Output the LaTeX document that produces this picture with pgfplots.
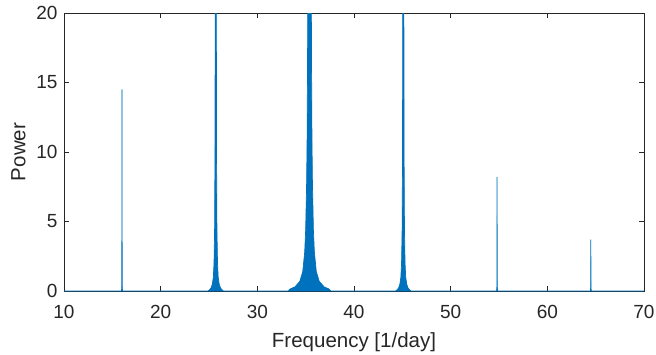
\documentclass[border=0pt]{standalone}
\usepackage{fontspec}
\setmainfont{Liberation Sans}
\usepackage{pgfplots}
\pgfplotsset{compat=1.18}
\definecolor{mblue}{RGB}{0,114,189}
\definecolor{mgray}{RGB}{38,38,38}
\begin{document}
\fontsize{19}{22}\selectfont
\begin{tikzpicture}
\path[use as bounding box] (-64pt,-63pt) rectangle (592pt,291pt);
\begin{axis}[
  at={(0,0)}, anchor=south west,
  scale only axis, width=580pt, height=278pt,
  xmin=10, xmax=70, ymin=0, ymax=20,
  xtick={10,20,...,70}, ytick={0,5,...,20},
  tick align=inside, major tick length=5pt,
  axis line style={mgray, line width=0.6pt},
  tick style={mgray, line width=0.6pt},
  ticklabel style={mgray},
  xticklabel style={yshift=-8pt},
  /pgf/number format/assume math mode=true,
  xlabel={Frequency [1/day]}, ylabel={Power},
  label style={mgray, font=\fontsize{20.5}{24}\selectfont},
  xlabel style={yshift=-1pt},
  ylabel style={yshift=-2pt},
  clip=true,
]
\addplot[draw=mblue, fill=mblue, line width=0.7pt] table[row sep=\\] {
x y\\
10 0\\
15.95 0\\
15.98 0.4\\
16.0 14.5\\
16.02 0.4\\
16.05 0\\
24.9 0\\
25.0 0.05\\
25.2 0.2\\
25.35 0.5\\
25.45 1.0\\
25.52 2.0\\
25.58 4.5\\
25.62 10\\
25.65 25\\
25.7 60\\
25.75 25\\
25.78 10\\
25.82 4.5\\
25.88 2.0\\
25.95 1.0\\
26.05 0.5\\
26.2 0.2\\
26.4 0.05\\
26.5 0\\
33.2 0\\
33.4 0.15\\
33.9 0.3\\
34.4 0.7\\
34.7 1.4\\
34.9 2.8\\
35.0 4.4\\
35.1 7.8\\
35.15 11\\
35.2 17.5\\
35.25 31\\
35.3 70\\
35.4 200\\
35.5 70\\
35.55 31\\
35.6 17.5\\
35.65 11\\
35.7 7.8\\
35.8 4.4\\
35.9 2.8\\
36.1 1.4\\
36.4 0.7\\
36.9 0.3\\
37.4 0.15\\
37.6 0\\
44.3 0\\
44.4 0.05\\
44.6 0.2\\
44.75 0.5\\
44.85 1.0\\
44.92 2.0\\
44.98 4.5\\
45.02 10\\
45.05 25\\
45.1 60\\
45.15 25\\
45.18 10\\
45.22 4.5\\
45.28 2.0\\
45.35 1.0\\
45.45 0.5\\
45.6 0.2\\
45.8 0.05\\
45.9 0\\
54.75 0\\
54.78 0.3\\
54.8 8.2\\
54.82 0.3\\
54.85 0\\
64.45 0\\
64.48 0.2\\
64.5 3.7\\
64.52 0.2\\
64.55 0\\
70 0\\
} \closedcycle;
\end{axis}
\end{tikzpicture}
\end{document}
